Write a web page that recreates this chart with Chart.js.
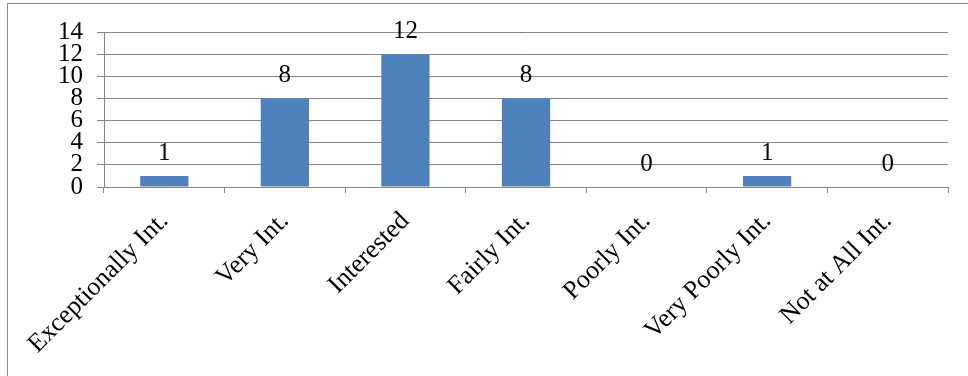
<!DOCTYPE html>
<html>
<head>
<meta charset="utf-8">
<script src="https://cdn.jsdelivr.net/npm/chart.js@4/dist/chart.umd.min.js"></script>
<style>
  body { margin: 0; background: #fff; }
  #wrap { position: relative; width: 968px; height: 376px; overflow: hidden; }
  #frame { position: absolute; left: 7px; top: 3px; width: 990px; height: 400px; border: 1px solid #8c8c8c; }
  #chart { position: absolute; left: 0; top: 0; }
</style>
</head>
<body>
<div id="wrap">
  <div id="frame"></div>
  <canvas id="chart" width="968" height="376"></canvas>
</div>
<script>
// chart data
const categories = ['Exceptionally Int.', 'Very Int.', 'Interested', 'Fairly Int.', 'Poorly Int.', 'Very Poorly Int.', 'Not at All Int.'];
const responses = [1, 8, 12, 8, 0, 1, 0];
const yTicks = [0, 2, 4, 6, 8, 10, 12, 14];

const serif = '"Liberation Serif", "Times New Roman", serif';
const gridGray = '#868686';

// draws the value above each bar
const valueLabels = {
    id: 'valueLabels',
    afterDatasetsDraw(chart) {
        const ctx = chart.ctx;
        const meta = chart.getDatasetMeta(0);
        ctx.save();
        ctx.font = '25px ' + serif;
        ctx.fillStyle = '#000';
        ctx.textAlign = 'center';
        ctx.textBaseline = 'bottom';
        meta.data.forEach((bar, i) => {
            ctx.fillText(String(responses[i]), bar.x, bar.y - 10);
        });
        ctx.restore();
    }
};

new Chart(document.getElementById('chart'), {
    type: 'bar',
    data: {
        labels: categories,
        datasets: [{
            data: responses,
            backgroundColor: '#4F81BD',
            barPercentage: 0.4,
            categoryPercentage: 1
        }]
    },
    options: {
        responsive: false,
        animation: false,
        layout: { padding: { left: 0, right: 20, top: 32, bottom: 0 } },
        plugins: {
            legend: { display: false },
            tooltip: { enabled: false }
        },
        scales: {
            y: {
                min: 0,
                max: 14,
                afterBuildTicks: (axis) => { axis.ticks = yTicks.map(v => ({ value: v })); },
                afterFit: (axis) => { axis.width = 104; },
                grid: { color: gridGray, lineWidth: 1, tickLength: 7 },
                border: { color: gridGray },
                ticks: {
                    color: '#000',
                    autoSkip: false,
                    padding: 14,
                    font: { family: serif, size: 25 }
                }
            },
            x: {
                afterFit: (axis) => { axis.height = 189; },
                grid: { color: gridGray, drawOnChartArea: false, tickLength: 6, offset: true },
                border: { color: gridGray },
                ticks: {
                    color: '#000',
                    minRotation: 45,
                    maxRotation: 45,
                    autoSkip: false,
                    padding: 13,
                    font: { family: serif, size: 26 }
                }
            }
        }
    },
    plugins: [valueLabels]
});
</script>
</body>
</html>
